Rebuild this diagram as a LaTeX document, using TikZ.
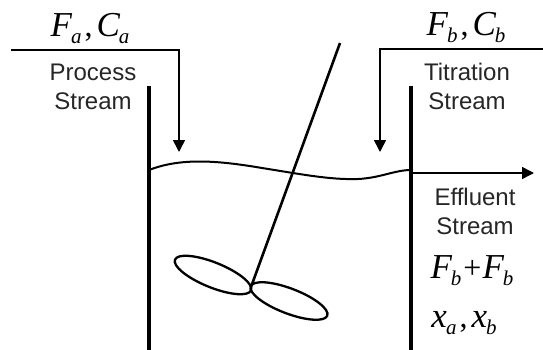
\documentclass[tikz,border=0pt]{standalone}
\usepackage{fontspec}
\setmainfont{Liberation Sans}
\newfontfamily\mathserif{Liberation Serif}
\usetikzlibrary{arrows.meta}
\newcommand{\varsub}[2]{{\mathserif\itshape\fontsize{35}{35}\selectfont #1\kern-1pt\raisebox{-7pt}{\fontsize{21}{21}\selectfont #2}}}
\newcommand{\sepcomma}{{\mathserif\fontsize{32}{32}\selectfont\kern3pt,\kern4pt}}
\tikzset{
  x=1pt,y=-1pt,
  wall/.style={line width=3.2pt},
  pipe/.style={line width=1.6pt},
  flow/.style={pipe,-{Triangle[length=12pt,width=12pt]}},
  thin curve/.style={line width=2pt},
  shaft/.style={line width=2.6pt},
  label/.style={inner sep=0pt,font=\fontsize{24}{29}\selectfont,align=center,text=black!85},
  sym/.style={inner sep=0pt,anchor=base}
}
\begin{document}
\begin{tikzpicture}
\useasboundingbox[fill=white] (0,0) rectangle (543,350);
\coordinate (aS) at (11,50);
\coordinate (aC) at (179,50);
\coordinate (aE) at (179,152);
\coordinate (bS) at (543,49);
\coordinate (bC) at (380,49);
\coordinate (bE) at (380,152);
\coordinate (eS) at (411,173);
\coordinate (eE) at (534,173);
\coordinate (lt) at (149,86);
\coordinate (lb) at (149,350);
\coordinate (rt) at (411,86);
\coordinate (rb) at (411,350);
\coordinate (s1) at (340,43);
\coordinate (s2) at (251,287);
\draw[wall] (lt) -- (lb);
\draw[wall] (rt) -- (rb);
\draw[flow] (aS) -- (aC) -- (aE);
\draw[flow] (bS) -- (bC) -- (bE);
\draw[flow] (eS) -- (eE);
\draw[thin curve] (149,170) .. controls (180,158) and (215,160) .. (262,168)
  .. controls (300,174) and (330,180) .. (358,179)
  .. controls (380,178) and (395,170) .. (411,170);
\draw[shaft] (s1) -- (s2);
\draw[thin curve,line width=2.3pt,rotate around={-22:(213,275)}] (213,275) ellipse [x radius=41, y radius=12.5];
\draw[thin curve,line width=2.3pt,rotate around={-21:(289,301)}] (289,301) ellipse [x radius=41, y radius=12.5];
\node[sym] (fa) at (90,37) {\varsub{F}{a}\sepcomma\varsub{C}{a}};
\node[sym] (fb) at (466,36) {\varsub{F}{b}\sepcomma\varsub{C}{b}};
\node[label] (ps) at (93,87) {Process\\Stream};
\node[label] (ts) at (467,86) {Titration\\Stream};
\node[label] (es) at (475,211) {Effluent\\Stream};
\node[sym] (sum) at (472,278) {\varsub{F}{b}\kern2pt{\mathserif\fontsize{32}{32}\selectfont +}\kern1pt\varsub{F}{b}};
\node[sym] (xx) at (464,327) {\varsub{x}{a}\sepcomma\varsub{x}{b}};
\end{tikzpicture}
\end{document}
